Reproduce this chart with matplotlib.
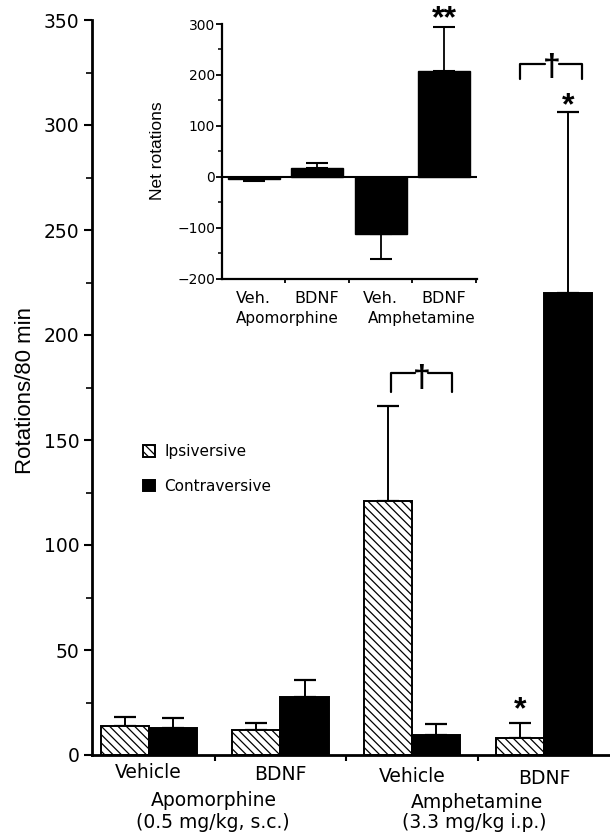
import matplotlib
matplotlib.use("Agg")
import matplotlib.pyplot as plt
import numpy as np

plt.rcParams['font.family'] = ['DejaVu Sans']
plt.rcParams['hatch.linewidth'] = 0.9

# ---- main chart data ----
groups = ["Vehicle", "BDNF", "Vehicle", "BDNF"]
drug_names = ["Apomorphine", "Amphetamine"]
drug_doses = ["(0.5 mg/kg, s.c.)", "(3.3 mg/kg i.p.)"]
ipsi = [13.8, 11.7, 121, 7.9]
ipsi_err = [4.3, 3.7, 45, 7.3]
contra = [13.0, 27.5, 9.5, 220]
contra_err = [4.5, 8.4, 5.4, 86]
series_names = ["Ipsiversive", "Contraversive"]

# ---- inset data ----
inset_labels = ["Veh.", "BDNF", "Veh.", "BDNF"]
inset_drugs = ["Apomorphine", "Amphetamine"]
net = [-3, 18, -112, 207]
net_err = [5, 9, 48, 87]

W, H = 610, 834
fig = plt.figure(figsize=(W / 100, H / 100), dpi=100)

def fx(px):
    return px / W

def fy(py):
    return 1 - py / H

MARK_FONT = ['Liberation Sans', 'DejaVu Sans']

# main axes
ax = fig.add_axes([fx(92), fy(755), fx(610) - fx(92), fy(20) - fy(755)])
x = np.arange(len(groups))
bw = 0.365
ax.bar(x - bw / 2, ipsi, bw, color='white', edgecolor='black', hatch='\\\\\\\\',
       linewidth=1.4, label=series_names[0], zorder=2)
ax.bar(x + bw / 2, contra, bw, color='black', edgecolor='black',
       linewidth=1.4, label=series_names[1], zorder=2)
ax.errorbar(x - bw / 2, ipsi, yerr=[np.zeros(4), ipsi_err], fmt='none',
            ecolor='black', elinewidth=1.4, capsize=8, capthick=1.6, zorder=1)
ax.errorbar(x + bw / 2, contra, yerr=[np.zeros(4), contra_err], fmt='none',
            ecolor='black', elinewidth=1.4, capsize=8, capthick=1.6, zorder=1)

ax.set_xlim(-0.43, 3.5)
ax.set_ylim(0, 350)
for s in ['top', 'right']:
    ax.spines[s].set_visible(False)
ax.spines['left'].set_linewidth(2)
ax.spines['bottom'].set_linewidth(2)
ax.set_yticks(np.arange(0, 351, 50))
ax.set_yticks(np.arange(25, 351, 50), minor=True)
ax.tick_params(axis='y', which='major', length=6, width=1.5, labelsize=13.5, pad=3)
ax.tick_params(axis='y', which='minor', length=4, width=1.2)
ax.set_xticks(x)
ax.set_xticklabels([])
ax.set_xticks([0.5, 1.5, 2.5], minor=True)
ax.tick_params(axis='x', which='major', length=0)
ax.tick_params(axis='x', which='minor', length=4, width=1.5)

# category labels (slightly descending, as in the reference)
label_y = [773, 775, 777, 779]
for xi_, g, py in zip(x, groups, label_y):
    ax.text(xi_, 0, g, ha='center', va='center', fontsize=13.5,
            transform=ax.get_xaxis_transform() + matplotlib.transforms.ScaledTranslation(
                0, -(py - 755) / 100, fig.dpi_scale_trans))

# drug labels below
fig.text(fx(214), fy(800), drug_names[0], ha='center', va='center', fontsize=13.5)
fig.text(fx(213), fy(822), drug_doses[0], ha='center', va='center', fontsize=13.5)
fig.text(fx(477), fy(802), drug_names[1], ha='center', va='center', fontsize=13.5)
fig.text(fx(474), fy(823), drug_doses[1], ha='center', va='center', fontsize=13.5)

fig.text(fx(26), fy(390), "Rotations/80 min", rotation=90, ha='center', va='center',
         fontsize=16, family=MARK_FONT)

# legend
ax.legend(loc='upper left', bbox_to_anchor=(fx(143), fy(444)), bbox_transform=fig.transFigure,
          frameon=False, fontsize=11, handlelength=0.8, handleheight=0.8,
          handletextpad=0.6, labelspacing=1.3, borderpad=0, borderaxespad=0)

# significance marks on main
ax.text(3 - bw / 2, 14, "*", ha='center', va='bottom', fontsize=23, fontweight='bold',
        family=MARK_FONT)
ax.text(3 + bw / 2, 302, "*", ha='center', va='bottom', fontsize=23, fontweight='bold',
        family=MARK_FONT)

def bracket(x0, x1, ytop, yleg, xd, yd):
    gap = 0.05
    ax.plot([x0, x0, xd - gap], [yleg, ytop, ytop], color='black', lw=1.6,
            solid_joinstyle='round', solid_capstyle='round', clip_on=False)
    ax.plot([xd + gap, x1, x1], [ytop, ytop, yleg], color='black', lw=1.6,
            solid_joinstyle='round', solid_capstyle='round', clip_on=False)
    ax.text(xd, yd, "\u2020", ha='center', va='center', fontsize=23, fontweight='bold',
            family=MARK_FONT)

bracket(1.84, 2.30, 182, 173, 2.07, 179)
bracket(2.82, 3.29, 329, 322, 3.06, 327)

# inset
ax2 = fig.add_axes([fx(222), fy(279), fx(477) - fx(222), fy(24) - fy(279)])
xi = np.arange(len(inset_labels))
ax2.bar(xi, net, 0.82, color='black', edgecolor='black', zorder=2)
lo = [e if v < 0 else 0 for v, e in zip(net, net_err)]
hi = [e if v >= 0 else 0 for v, e in zip(net, net_err)]
ax2.errorbar(xi, net, yerr=[lo, hi], fmt='none', ecolor='black', elinewidth=1.3,
             capsize=8, capthick=1.5, zorder=1)
ax2.axhline(0, color='black', lw=1.5, zorder=3)
ax2.set_xlim(-0.5, 3.52)
ax2.set_ylim(-200, 300)
for s in ['top', 'right']:
    ax2.spines[s].set_visible(False)
ax2.spines['left'].set_linewidth(1.6)
ax2.spines['bottom'].set_linewidth(1.6)
ax2.set_yticks(np.arange(-200, 301, 100))
ax2.set_yticks(np.arange(-150, 301, 100), minor=True)
ax2.tick_params(axis='y', which='major', length=4, width=1.3, labelsize=10, pad=1)
ax2.tick_params(axis='y', which='minor', length=3, width=1.1)
ax2.set_xticks(xi)
ax2.set_xticklabels(inset_labels)
ax2.set_xticks([0.5, 1.5, 2.5, 3.5], minor=True)
ax2.tick_params(axis='x', which='major', length=0, labelsize=11.5, pad=9)
ax2.tick_params(axis='x', which='minor', length=3, width=1.3)
fig.text(fx(157), fy(151), "Net rotations", rotation=90, ha='center', va='center',
         fontsize=12.5, family=MARK_FONT)
fig.text(fx(287), fy(318), inset_drugs[0], ha='center', va='center', fontsize=11)
fig.text(fx(422), fy(318), inset_drugs[1], ha='center', va='center', fontsize=11)
ax2.text(3, 279, "**", ha='center', va='bottom', fontsize=23, fontweight='bold',
         family=MARK_FONT, clip_on=False)

fig.savefig("out.png", dpi=100)
